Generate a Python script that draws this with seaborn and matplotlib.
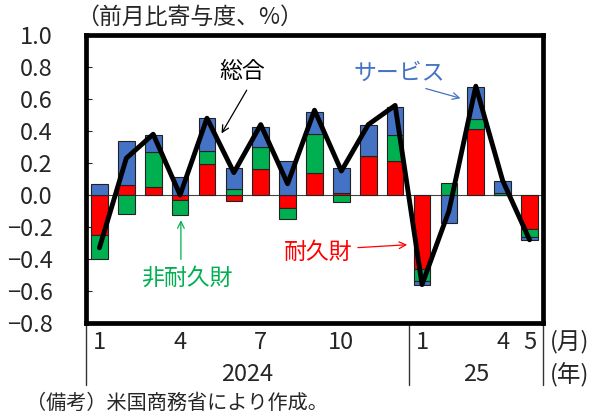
import numpy as np
import matplotlib.pyplot as plt
import seaborn as sns

sns.set_theme(style='white')
plt.rcParams['font.family'] = ['Liberation Sans Narrow', 'Noto Sans CJK JP', 'DejaVu Sans']

# data (contributions to m/m change, %)  2024/1 - 2025/5
months = list(range(17))
durable = [-0.25, 0.06, 0.05, -0.03, 0.195, -0.04, 0.16, -0.08, 0.14, 0.01, 0.245, 0.21,
           -0.46, 0.0, 0.41, 0.0, -0.21]
nondurable = [-0.15, -0.12, 0.22, -0.095, 0.08, 0.04, 0.14, -0.07, 0.24, -0.045, 0.0, 0.165,
              -0.075, 0.075, 0.065, 0.015, -0.05]
services = [0.07, 0.28, 0.105, 0.115, 0.205, 0.13, 0.125, 0.21, 0.14, 0.16, 0.195, 0.175,
            -0.03, -0.175, 0.2, 0.075, -0.02]
total = [-0.33, 0.23, 0.38, 0.0, 0.48, 0.14, 0.44, 0.07, 0.53, 0.15, 0.44, 0.56,
         -0.56, -0.10, 0.68, 0.09, -0.28]
tick_pos = [0, 3, 6, 9, 12, 15, 16]
tick_lab = ['1', '4', '7', '10', '1', '4', '5']
yticks = [-0.8, -0.6, -0.4, -0.2, 0.0, 0.2, 0.4, 0.6, 0.8, 1.0]

RED, GREEN, BLUE = '#FF0000', '#00B050', '#4472C4'

fig = plt.figure(figsize=(6.06, 4.18), dpi=100)
ax = fig.add_axes([86 / 606, 1 - 323 / 418, 457 / 606, 288 / 418])

pos = np.zeros(17)
neg = np.zeros(17)
for vals, col in [(durable, RED), (nondurable, GREEN), (services, BLUE)]:
    v = np.array(vals)
    bottom = np.where(v >= 0, pos, neg)
    ax.bar(months, v, bottom=bottom, width=0.62, color=col,
           edgecolor='#222222', linewidth=0.8, zorder=2)
    pos = pos + np.where(v > 0, v, 0)
    neg = neg + np.where(v < 0, v, 0)

ax.axhline(0, color='#444444', lw=0.8, zorder=1.5)
sns.lineplot(x=months, y=total, color='black', lw=3.5, ax=ax, zorder=4)

ax.set_xlim(-0.5, 16.5)
ax.set_ylim(-0.8, 1.0)
ax.set_yticks(yticks)
ax.set_yticklabels([f'{t:.1f}'.replace('-', '\u2212') for t in yticks], fontsize=17)
ax.tick_params(axis='y', direction='in', length=4, width=0.8, pad=24, left=True)
ax.set_xticks(tick_pos)
ax.set_xticklabels(tick_lab, fontsize=17)
ax.tick_params(axis='x', length=0, pad=6)
for s in ax.spines.values():
    s.set_linewidth(3.4)
    s.set_color('black')
ax.set_xlabel('')
ax.set_ylabel('')

# separators under the axis
tr = ax.get_xaxis_transform()
for xv in [-0.5, 11.5, 16.5]:
    ax.plot([xv, xv], [0, -0.215], transform=tr, color='#333333', lw=1, clip_on=False)
ax.text(5.5, -0.18, '2024', transform=tr, ha='center', va='center', fontsize=17)
ax.text(14, -0.18, '25', transform=tr, ha='center', va='center', fontsize=17)
fig.text(570 / 606, 1 - 342 / 418, '(月)', ha='center', va='center', fontsize=17)
fig.text(570 / 606, 1 - 375 / 418, '(年)', ha='center', va='center', fontsize=17)

fig.text(76 / 606, 1 - 17 / 418, '（前月比寄与度、%）', ha='left', va='center', fontsize=16.5)
fig.text(26 / 606, 1 - 403 / 418, '（備考）米国商務省により作成。', ha='left', va='center',
         fontsize=14.5)

# annotations
arr = dict(arrowstyle='->', lw=0.9)
ax.text(5.30, 0.775, '総合', ha='center', va='center', fontsize=16.5, color='black')
ax.annotate('', xy=(4.49, 0.37), xytext=(5.53, 0.67), arrowprops=dict(arr, color='black'))
ax.text(11.14, 0.76, 'サービス', ha='center', va='center', fontsize=16.5, color=BLUE)
ax.annotate('', xy=(13.53, 0.60), xytext=(12.04, 0.67), arrowprops=dict(arr, color=BLUE))
ax.text(3.26, -0.52, '非耐久財', ha='center', va='center', fontsize=16.5, color=GREEN)
ax.annotate('', xy=(3.03, -0.14), xytext=(3.03, -0.42), arrowprops=dict(arr, color=GREEN))
ax.text(8.13, -0.36, '耐久財', ha='center', va='center', fontsize=16.5, color=RED)
ax.annotate('', xy=(11.55, -0.31), xytext=(9.51, -0.33), arrowprops=dict(arr, color=RED))

fig.savefig('out.png', dpi=100)
